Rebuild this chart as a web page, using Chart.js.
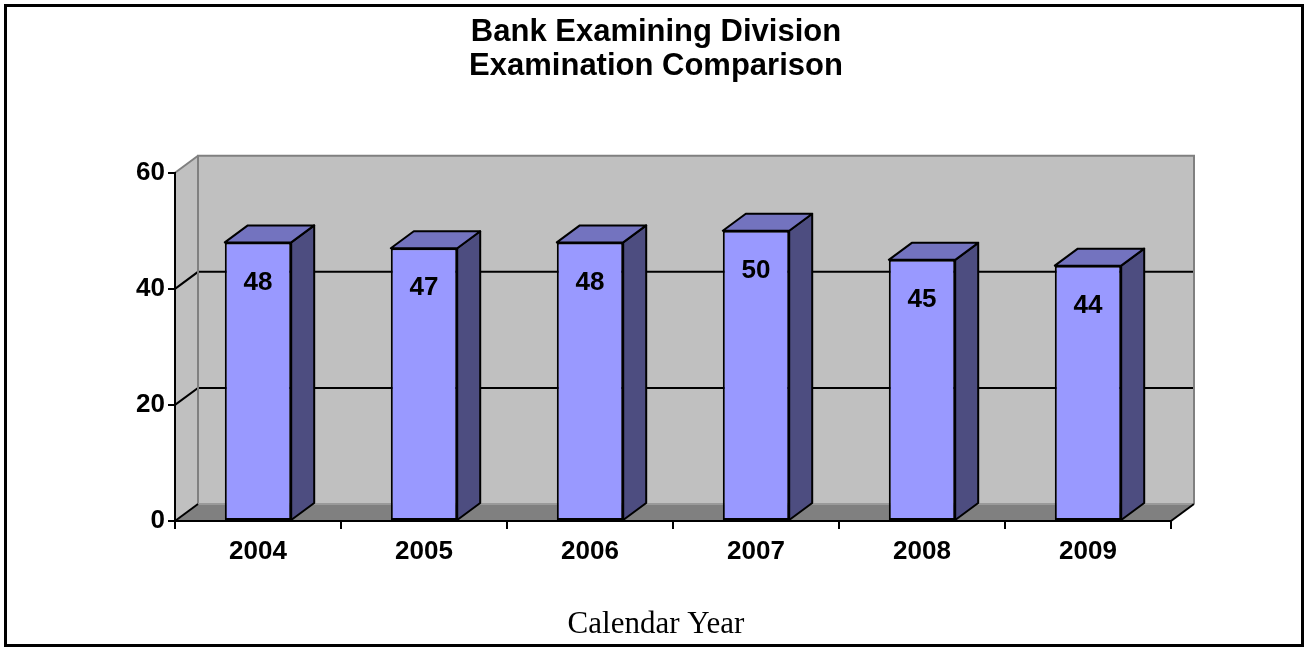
<!DOCTYPE html>
<html>
<head>
<meta charset="utf-8">
<title>Bank Examining Division - Examination Comparison</title>
<script src="https://cdn.jsdelivr.net/npm/chart.js@4.4.0/dist/chart.umd.min.js"></script>
<style>
  html, body { margin: 0; padding: 0; background: #fff; }
  canvas { display: block; }
</style>
</head>
<body>
<canvas id="examChart" width="1304" height="647"></canvas>
<script>
// Chart data
const years = ['2004', '2005', '2006', '2007', '2008', '2009'];
const examinations = [48, 47, 48, 50, 45, 44];
const yMin = 0;
const yMax = 60;
const yStep = 20;
const titleLines = ['Bank Examining Division', 'Examination Comparison'];
const xAxisTitle = 'Calendar Year';

// Depth of the fake 3D box (screen offset of the back plane)
const DX = 23;
const DY = -17;

const SANS = "'Liberation Sans', Arial, sans-serif";
const SERIF = "'Liberation Serif', 'Times New Roman', serif";

Chart.defaults.font.family = SANS;
Chart.defaults.color = '#000';

// Helper to fill (and optionally stroke) a polygon
function polygon(ctx, pts, fill, stroke) {
    ctx.beginPath();
    ctx.moveTo(pts[0][0], pts[0][1]);
    for (let i = 1; i < pts.length; i++) ctx.lineTo(pts[i][0], pts[i][1]);
    ctx.closePath();
    if (fill) { ctx.fillStyle = fill; ctx.fill(); }
    if (stroke) { ctx.strokeStyle = stroke; ctx.stroke(); }
}

function segment(ctx, x1, y1, x2, y2, color) {
    ctx.beginPath();
    ctx.moveTo(x1, y1);
    ctx.lineTo(x2, y2);
    ctx.strokeStyle = color;
    ctx.stroke();
}

// Walls, floor and gridlines behind the bars
const walls3d = {
    id: 'walls3d',
    beforeDraw(chart) {
        const { ctx, chartArea: a, scales } = chart;
        const yScale = scales.y;
        ctx.save();
        ctx.lineWidth = 2;

        // left wall, back wall, floor
        polygon(ctx, [[a.left, a.top], [a.left + DX, a.top + DY], [a.left + DX, a.bottom + DY], [a.left, a.bottom]], '#c0c0c0');
        polygon(ctx, [[a.left + DX, a.top + DY], [a.right + DX, a.top + DY], [a.right + DX, a.bottom + DY], [a.left + DX, a.bottom + DY]], '#c0c0c0');
        polygon(ctx, [[a.left, a.bottom], [a.left + DX, a.bottom + DY], [a.right + DX, a.bottom + DY], [a.right, a.bottom]], '#808080');

        // gridlines on walls
        yScale.ticks.forEach(t => {
            if (t.value <= yMin || t.value >= yMax) return;
            const py = yScale.getPixelForValue(t.value);
            ctx.beginPath();
            ctx.moveTo(a.left, py);
            ctx.lineTo(a.left + DX, py + DY);
            ctx.lineTo(a.right + DX, py + DY);
            ctx.strokeStyle = '#000';
            ctx.stroke();
        });

        // wall edges
        segment(ctx, a.left, a.top, a.left + DX, a.top + DY, '#808080');
        ctx.beginPath();
        ctx.moveTo(a.left + DX, a.bottom + DY);
        ctx.lineTo(a.left + DX, a.top + DY);
        ctx.lineTo(a.right + DX, a.top + DY);
        ctx.lineTo(a.right + DX, a.bottom + DY);
        ctx.strokeStyle = '#808080';
        ctx.stroke();
        segment(ctx, a.left + DX, a.bottom + DY, a.right + DX, a.bottom + DY, '#9a9a9a');

        // floor side edges
        segment(ctx, a.left, a.bottom, a.left + DX, a.bottom + DY, '#000');
        segment(ctx, a.right, a.bottom, a.right + DX, a.bottom + DY, '#000');
        ctx.restore();
    }
};

// Side and top faces of each bar plus the value labels
const bars3d = {
    id: 'bars3d',
    afterDatasetsDraw(chart) {
        const { ctx } = chart;
        const meta = chart.getDatasetMeta(0);
        ctx.save();
        ctx.lineWidth = 2;
        ctx.lineJoin = 'round';
        meta.data.forEach((bar, i) => {
            const { x, y, base, width } = bar.getProps(['x', 'y', 'base', 'width'], true);
            const x1 = x - width / 2;
            const x2 = x + width / 2;
            polygon(ctx, [[x2, y], [x2 + DX, y + DY], [x2 + DX, base + DY], [x2, base]], '#4d4d80', '#000');
            polygon(ctx, [[x1, y], [x1 + DX, y + DY], [x2 + DX, y + DY], [x2, y]], '#7373bf', '#000');

            ctx.fillStyle = '#000';
            ctx.font = 'bold 26px ' + SANS;
            ctx.textAlign = 'center';
            ctx.textBaseline = 'middle';
            ctx.fillText(String(examinations[i]), x, y + 40);
        });
        ctx.restore();
    }
};

// Outer frame round the whole chart
const frame = {
    id: 'frame',
    afterDraw(chart) {
        const ctx = chart.ctx;
        ctx.save();
        ctx.lineWidth = 3;
        ctx.strokeStyle = '#000';
        ctx.strokeRect(5.5, 5.5, 1297, 640);
        ctx.restore();
    }
};

const ctx = document.getElementById('examChart').getContext('2d');
new Chart(ctx, {
    type: 'bar',
    data: {
        labels: years,
        datasets: [{
            label: 'Examinations',
            data: examinations,
            backgroundColor: '#9999ff',
            borderColor: '#000',
            borderWidth: 2,
            borderSkipped: false,
            barPercentage: 0.4,
            categoryPercentage: 1.0
        }]
    },
    options: {
        responsive: false,
        animation: false,
        events: [],
        layout: {
            padding: { left: 8, right: 0, top: 0, bottom: 0 }
        },
        plugins: {
            legend: { display: false },
            tooltip: { enabled: false },
            title: {
                display: true,
                text: titleLines,
                color: '#000',
                font: { size: 31, weight: 'bold', lineHeight: 1.077 },
                padding: { top: 16, bottom: 90 }
            },
            subtitle: {
                display: true,
                position: 'bottom',
                text: xAxisTitle,
                color: '#000',
                font: { family: SERIF, size: 31, weight: 'normal', lineHeight: 1.2 },
                padding: { top: 0, bottom: 4 }
            }
        },
        scales: {
            x: {
                grid: {
                    display: true,
                    drawOnChartArea: false,
                    drawTicks: true,
                    tickLength: 8,
                    color: '#000',
                    lineWidth: 2
                },
                border: { display: true, color: '#000', width: 2 },
                ticks: {
                    font: { size: 26, weight: 'bold' },
                    color: '#000',
                    padding: 7
                },
                afterFit(scale) { scale.height = 84.8; }
            },
            y: {
                min: yMin,
                max: yMax,
                grid: {
                    display: true,
                    drawOnChartArea: false,
                    drawTicks: true,
                    tickLength: 7,
                    color: '#000',
                    lineWidth: 2
                },
                border: { display: true, color: '#000', width: 2 },
                ticks: {
                    stepSize: yStep,
                    font: { size: 26, weight: 'bold' },
                    color: '#000',
                    padding: 3
                },
                afterFit(scale) { scale.width = 167; }
            },
            // empty axis that only reserves the space right of the box
            yRight: {
                position: 'right',
                display: true,
                grid: { display: false },
                border: { display: false },
                ticks: { display: false },
                afterFit(scale) { scale.width = 133; }
            }
        }
    },
    plugins: [walls3d, bars3d, frame]
});
</script>
</body>
</html>
